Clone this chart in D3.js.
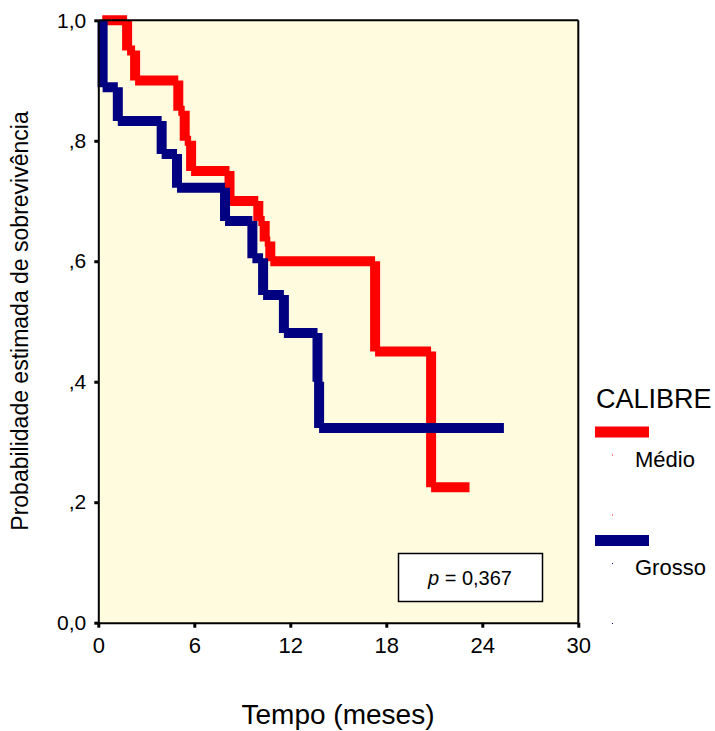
<!DOCTYPE html>
<html lang="pt">
<head>
<meta charset="UTF-8">
<title>Sobrevivência por calibre</title>
<script src="https://d3js.org/d3.v7.min.js"></script>
<style>
  body { margin: 0; background: #fff; }
  svg text { font-family: "Liberation Sans", Arial, sans-serif; fill: #000; }
</style>
</head>
<body>
<div id="chart"></div>
<script>
// Kaplan-Meier steps (time in months, survival after the drop)
const medioTimes = [0.25, 1.8, 2.3, 5.0, 5.4, 5.8, 8.2, 10.0, 10.4, 10.75, 17.3, 20.8, 23.2];
const medioSurv  = [1.0, 0.95, 0.90, 0.85, 0.80, 0.75, 0.70, 0.667, 0.633, 0.60, 0.45, 0.225, 0.225];

const grossoTimes = [0.27, 0.27, 1.22, 3.96, 4.92, 7.92, 9.63, 10.3, 11.6, 13.7, 13.8, 25.35];
const grossoSurv  = [1.0, 0.889, 0.833, 0.778, 0.722, 0.667, 0.605, 0.544, 0.481, 0.40, 0.323, 0.323];

const groups = ["Médio", "Grosso"];
const groupColors = ["#ff0000", "#000080"];

const xTicks = [0, 6, 12, 18, 24, 30];
const yTicks = [0, 0.2, 0.4, 0.6, 0.8, 1.0];
const yTickLabels = ["0,0", ",2", ",4", ",6", ",8", "1,0"];

const pValueText = "0,367";

const W = 715, H = 731;
const plotLeft = 98.3, plotRight = 578.3, plotTop = 20.3, plotBottom = 622.7;

const svg = d3.select("#chart").append("svg")
    .attr("width", W)
    .attr("height", H);

const x = d3.scaleLinear().domain([0, 30]).range([plotLeft, plotRight]);
const y = d3.scaleLinear().domain([0, 1]).range([plotBottom, plotTop]);

// plot background
svg.append("rect")
    .attr("x", plotLeft).attr("y", plotTop)
    .attr("width", plotRight - plotLeft).attr("height", plotBottom - plotTop)
    .attr("fill", "#fffbdf");

// build a step curve where every segment is its own subpath (butt ends, no joins)
function stepPath(times, surv) {
    const p = d3.path();
    for (let i = 0; i < times.length - 1; i++) {
        const x0 = x(times[i]), x1 = x(times[i + 1]);
        const y0 = y(surv[i]), y1 = y(surv[i + 1]);
        if (x1 > x0) { p.moveTo(x0, y0); p.lineTo(x1, y0); }
        if (y1 !== y0) { p.moveTo(x1, y0); p.lineTo(x1, y1); }
    }
    return p.toString();
}

const curves = [
    { times: medioTimes, surv: medioSurv },
    { times: grossoTimes, surv: grossoSurv }
];

curves.forEach((c, i) => {
    svg.append("path")
        .attr("d", stepPath(c.times, c.surv))
        .attr("fill", "none")
        .attr("stroke", groupColors[i])
        .attr("stroke-width", 10)
        .attr("stroke-linecap", "butt");
});

// frame top + right
svg.append("line")
    .attr("x1", plotLeft).attr("x2", plotRight).attr("y1", plotTop).attr("y2", plotTop)
    .attr("stroke", "#000").attr("stroke-width", 2);
svg.append("line")
    .attr("x1", plotRight).attr("x2", plotRight).attr("y1", plotTop).attr("y2", plotBottom)
    .attr("stroke", "#000").attr("stroke-width", 2);

// axes
const xAxis = svg.append("g")
    .attr("transform", "translate(0," + plotBottom + ")")
    .call(d3.axisBottom(x).tickValues(xTicks).tickSize(5).tickSizeOuter(0).tickPadding(10).tickFormat(d => d));

const yAxis = svg.append("g")
    .attr("transform", "translate(" + plotLeft + ",0)")
    .call(d3.axisLeft(y).tickValues(yTicks).tickSize(4).tickSizeOuter(0).tickPadding(8)
        .tickFormat((d, i) => yTickLabels[i]));

[xAxis, yAxis].forEach(a => {
    a.select(".domain").attr("stroke", "#000").attr("stroke-width", 2);
    a.selectAll(".tick line").attr("stroke", "#000").attr("stroke-width", 3);
});
xAxis.selectAll("text").style("font-size", "22px").style("font-family", "Liberation Sans, Arial, sans-serif");
yAxis.selectAll("text").style("font-size", "21px").style("font-family", "Liberation Sans, Arial, sans-serif");

// axis titles
svg.append("text")
    .attr("x", 338).attr("y", 724)
    .attr("text-anchor", "middle")
    .style("font-size", "28px")
    .text("Tempo (meses)");

svg.append("text")
    .attr("transform", "translate(28,321) rotate(-90)")
    .attr("text-anchor", "middle")
    .style("font-size", "23px")
    .text("Probabilidade estimada de sobrevivência");

// p value box
svg.append("rect")
    .attr("x", 398.5).attr("y", 553.5)
    .attr("width", 144).attr("height", 48)
    .attr("fill", "#fff").attr("stroke", "#000").attr("stroke-width", 1.5);

const pText = svg.append("text")
    .attr("x", 470).attr("y", 585)
    .attr("text-anchor", "middle")
    .style("font-size", "20px");
pText.append("tspan").style("font-style", "italic").text("p");
pText.append("tspan").text(" = " + pValueText);

// legend
svg.append("text")
    .attr("x", 596).attr("y", 408)
    .style("font-size", "27px")
    .text("CALIBRE");

const legendRows = [426.5, 535];
groups.forEach((g, i) => {
    const ly = legendRows[i];
    svg.append("rect")
        .attr("x", 595).attr("y", ly)
        .attr("width", 54).attr("height", 11)
        .attr("fill", groupColors[i]);
    svg.append("text")
        .attr("x", 635).attr("y", ly + 40)
        .style("font-size", "22px")
        .text(g);
    // tiny marker dots
    [28, 88].forEach(off => {
        svg.append("rect")
            .attr("x", 612).attr("y", ly + off)
            .attr("width", 1).attr("height", 1)
            .attr("fill", groupColors[i]);
    });
});
</script>
</body>
</html>
